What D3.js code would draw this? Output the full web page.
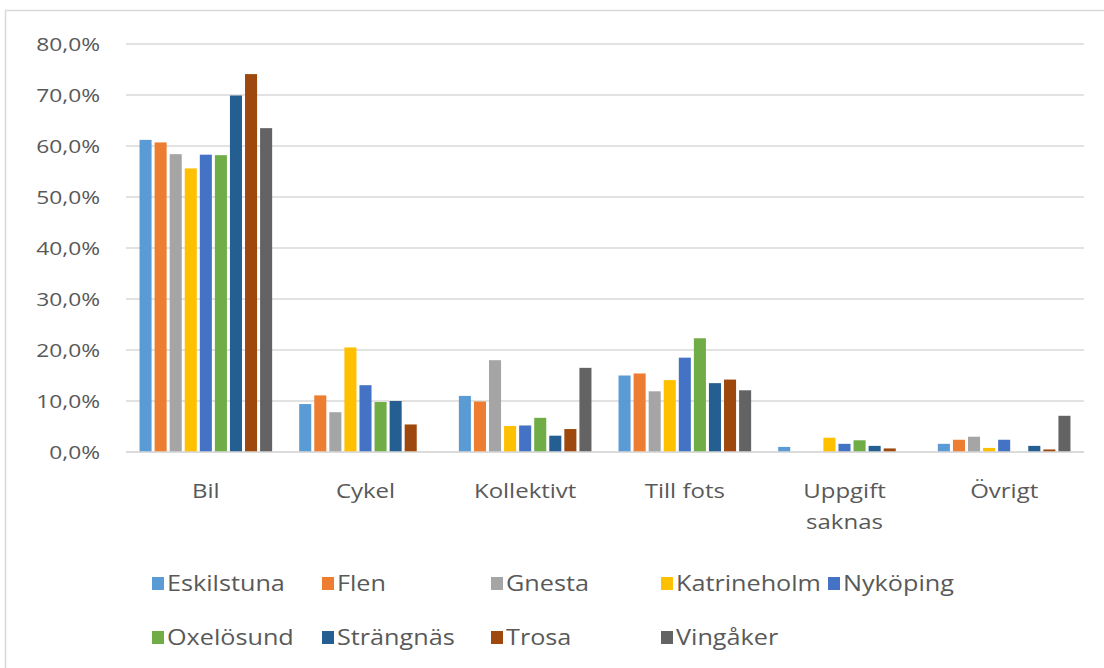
<!DOCTYPE html>
<html>
<head>
<meta charset="utf-8">
<script src="https://cdn.jsdelivr.net/npm/d3@7/dist/d3.min.js"></script>
<style>
  html, body { margin: 0; padding: 0; background: #fff; }
  svg text { font-family: "Open Sans", sans-serif; fill: #595959; }
</style>
</head>
<body>
<svg id="chart" width="1104" height="668"></svg>
<script>
const categories = ["Bil", "Cykel", "Kollektivt", "Till fots", "Uppgift saknas", "Övrigt"];
const categoryLabelLines = [["Bil"], ["Cykel"], ["Kollektivt"], ["Till fots"], ["Uppgift", "saknas"], ["Övrigt"]];
const seriesNames = ["Eskilstuna", "Flen", "Gnesta", "Katrineholm", "Nyköping", "Oxelösund", "Strängnäs", "Trosa", "Vingåker"];
const seriesColors = ["#5B9BD5", "#ED7D31", "#A5A5A5", "#FFC000", "#4472C4", "#70AD47", "#255E91", "#9E480E", "#636363"];

const eskilstuna  = [61.2,  9.4, 11.0, 15.0, 1.0,  1.6];
const flen        = [60.7, 11.1,  9.9, 15.4, null, 2.4];
const gnesta      = [58.4,  7.8, 18.0, 11.9, null, 3.0];
const katrineholm = [55.6, 20.5,  5.1, 14.1, 2.8,  0.8];
const nykoping    = [58.3, 13.1,  5.2, 18.5, 1.6,  2.4];
const oxelosund   = [58.2,  9.8,  6.7, 22.3, 2.3,  null];
const strangnas   = [69.9, 10.0,  3.2, 13.5, 1.2,  1.2];
const trosa       = [74.1,  5.4,  4.5, 14.2, 0.7,  0.5];
const vingaker    = [63.5, null, 16.5, 12.1, null, 7.1];

const yTicks = [0, 10, 20, 30, 40, 50, 60, 70, 80];

const seriesValues = [eskilstuna, flen, gnesta, katrineholm, nykoping, oxelosund, strangnas, trosa, vingaker];

const svg = d3.select("#chart");
const SX = 1.2; // horizontal stretch of text as in the reference

// frame
svg.append("rect")
  .attr("x", 5.5).attr("y", 10.5)
  .attr("width", 1120).attr("height", 700)
  .attr("fill", "none").attr("stroke", "#d9d9d9").attr("stroke-width", 1.5);

const plot = { left: 126, right: 1084, top: 44, bottom: 452 };

const x = d3.scaleBand().domain(categories).range([plot.left, plot.right]).paddingInner(0.16).paddingOuter(0.08);
const xi = d3.scaleBand().domain(seriesNames).range([0, x.bandwidth()]).paddingInner(0.2).paddingOuter(0.05);
const y = d3.scaleLinear().domain([0, 80]).range([plot.bottom, plot.top]);

function stretchedText(g, tx, ty, str, size, anchor) {
  return g.append("text")
    .attr("transform", `translate(${tx},${ty}) scale(${SX},1)`)
    .attr("text-anchor", anchor)
    .style("font-size", size + "px")
    .text(str);
}

// gridlines
const grid = svg.append("g");
grid.selectAll("line").data(yTicks).join("line")
  .attr("x1", plot.left).attr("x2", plot.right)
  .attr("y1", d => y(d)).attr("y2", d => y(d))
  .attr("stroke", "#d9d9d9").attr("stroke-width", 1.5);

// y tick labels
const fmt = v => d3.format(".1f")(v).replace(".", ",") + "%";
const yLab = svg.append("g");
yTicks.forEach(t => stretchedText(yLab, 100, y(t) + 7, fmt(t), 19, "end"));

// bars
const groups = svg.append("g").selectAll("g").data(categories).join("g")
  .attr("transform", d => `translate(${x(d)},0)`);
groups.selectAll("rect")
  .data((c, ci) => seriesNames.map((s, si) => ({ s, si, v: seriesValues[si][ci] })).filter(d => d.v != null))
  .join("rect")
  .attr("x", d => xi(d.s))
  .attr("width", xi.bandwidth())
  .attr("y", d => y(d.v))
  .attr("height", d => y(0) - y(d.v))
  .attr("fill", d => seriesColors[d.si]);

// baseline
svg.append("line")
  .attr("x1", plot.left).attr("x2", plot.right)
  .attr("y1", y(0)).attr("y2", y(0))
  .attr("stroke", "#d9d9d9").attr("stroke-width", 1.5);

// x labels
const xLab = svg.append("g");
categories.forEach((c, i) => {
  categoryLabelLines[i].forEach((line, li) => {
    stretchedText(xLab, x(c) + x.bandwidth() / 2, 498 + li * 31, line, 20, "middle");
  });
});

// legend
const legendCols = [152, 322, 491, 661, 828];
const legendRows = [591, 645];
const leg = svg.append("g");
seriesNames.forEach((s, i) => {
  const col = i < 5 ? i : i - 5;
  const row = i < 5 ? 0 : 1;
  const lx = legendCols[col], ly = legendRows[row];
  leg.append("rect").attr("x", lx).attr("y", ly - 14).attr("width", 12).attr("height", 13).attr("fill", seriesColors[i]);
  stretchedText(leg, lx + 15, ly, s, 21, "start");
});
</script>
</body>
</html>
